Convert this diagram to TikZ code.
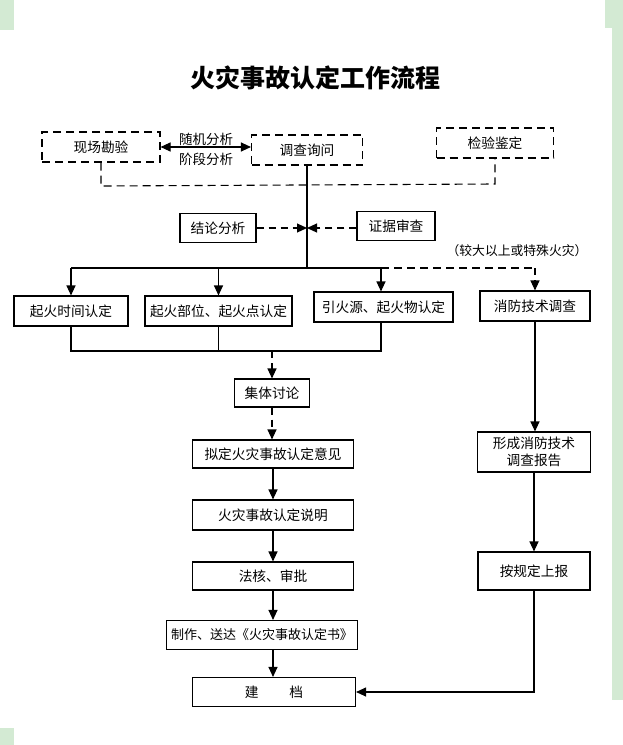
\documentclass[tikz,border=0pt]{standalone}
\usepackage{fontspec}
\newfontfamily\cjk{Noto Sans CJK SC}
\usetikzlibrary{arrows.meta}
\definecolor{edgegreen}{HTML}{D3EAD3}
\tikzset{
  box/.style={draw, line width=1.1pt, minimum height=29pt, inner sep=2pt,
    font=\cjk\fontsize{13.7}{16}\selectfont, align=center},
  dbox/.style={box, dash pattern=on 8pt off 5pt},
  arr/.style={-{Triangle[length=10pt,width=9pt]}, line width=1.1pt},
  darr/.style={arr, dash pattern=on 7pt off 5pt},
  ln/.style={line width=1.1pt},
  dln/.style={line width=1.1pt, dash pattern=on 8pt off 5pt},
  lbl/.style={font=\cjk\fontsize{13.5}{16}\selectfont, inner sep=0pt},
}
\begin{document}
\begin{tikzpicture}[x=1pt,y=-1pt]
\useasboundingbox (0,0) rectangle (623,745);
\fill[white] (0,0) rectangle (623,745);
% green edges of the screenshot
\fill[edgegreen] (0,0) rectangle (14,30);
\fill[edgegreen] (605,0) rectangle (623,28);
\fill[edgegreen] (612,28) rectangle (623,700);
\fill[edgegreen] (0,728) rectangle (14,745);

% title
\node[font=\cjk\bfseries\fontsize{25}{28}\selectfont] (title) at (315,78) {火灾事故认定工作流程};

% top row
\node[dbox, minimum width=118pt, minimum height=30pt] (xc) at (101,147) {现场勘验};
\node[dbox, minimum width=111pt, minimum height=30pt] (dc) at (307,150) {调查询问};
\node[dbox, minimum width=117pt, minimum height=30pt] (jy) at (495,143) {检验鉴定};
\node[lbl] (sj) at (206,139) {随机分析};
\node[lbl] (jd) at (206,159) {阶段分析};
\draw[{Triangle[length=10pt,width=9pt]}-{Triangle[length=10pt,width=9pt]}, line width=1.1pt]
  (xc.east) -- (xc.east -| dc.west);

% dashed loop under top row
\coordinate (lp1) at (101,186);
\coordinate (lp2) at (495,184);
\draw[dln] (xc.south) -- (lp1) -- (lp2) -- (jy.south);

% central trunk
\coordinate (jm) at (307,228);
\coordinate (j1) at (307,268);
\draw[ln] (dc.south) -- (j1);
\node[box, minimum width=76pt] (jl) at (218,228) {结论分析};
\node[box, minimum width=78pt] (zj) at (396,226) {证据审查};
\draw[darr] (jl.east) -- (jm);
\draw[darr] (zj.west |- jm) -- (jm);

% branch row
\node[box, minimum width=114pt, minimum height=30pt] (b1) at (71,311) {起火时间认定};
\node[box, minimum width=147pt, minimum height=30pt] (b2) at (218.5,311) {起火部位、起火点认定};
\node[box, minimum width=139pt, minimum height=30pt] (b3) at (383.5,307) {引火源、起火物认定};
\node[box, minimum width=110pt, minimum height=30pt] (xf) at (535,306) {消防技术调查};

\coordinate (h1) at (71,268);
\coordinate (h2) at (218.5,268);
\coordinate (h3) at (381,268);
\coordinate (h4) at (535,268);
\draw[ln] (h1) -- (h3);
\draw[dln] (h3) -- (h4);
\draw[arr] (h1) -- (b1.north);
\draw[arr] (h2) -- (b2.north);
\draw[arr] (h3) -- (h3 |- b3.north);
\draw[darr] (h4) -- (xf.north);
\node[font=\cjk\fontsize{12.8}{14}\selectfont, inner sep=0pt] (tsh) at (517,251) {（较大以上或特殊火灾）};

% merge under branch row
\coordinate (m1) at (71,351);
\coordinate (m3) at (381,351);
\coordinate (m) at (272,351);
\draw[ln] (b1.south) -- (m1) -- (m3) -- (m3 |- b3.south);
\draw[ln] (b2.south) -- (b2.south |- m1);

% left column
\node[box, minimum width=75pt, minimum height=28pt] (jt) at (272,393) {集体讨论};
\node[box, minimum width=161pt, minimum height=28pt] (ni) at (273,454) {拟定火灾事故认定意见};
\node[box, minimum width=161pt, minimum height=30pt] (sm) at (273,515) {火灾事故认定说明};
\node[box, minimum width=161pt, minimum height=28pt] (fh) at (273,576) {法核、审批};
\node[box, minimum width=191pt, minimum height=29pt, font=\cjk\fontsize{13}{16}\selectfont] (zz) at (262,635) {制作、送达《火灾事故认定书》};
\node[box, minimum width=163pt, minimum height=29pt] (ja) at (274,692) {建\hspace{31pt}档};

\draw[darr] (m) -- (jt.north);
\draw[darr] (jt.south) -- (jt.south |- ni.north);
\draw[arr] (ni.south) -- (sm.north);
\draw[arr] (sm.south) -- (fh.north);
\draw[arr] (fh.south) -- (fh.south |- zz.north);
\draw[arr] (fh.south |- zz.south) -- (fh.south |- ja.north);

% right column
\node[box, minimum width=113pt, minimum height=40pt, font=\cjk\fontsize{13.7}{17}\selectfont] (xs) at (534,452) {形成消防技术\\调查报告};
\node[box, minimum width=112pt, minimum height=38pt] (sb) at (534,571) {按规定上报};
\draw[arr] (xf.south) -- (xf.south |- xs.north);
\draw[arr] (xs.south) -- (xs.south |- sb.north);
\draw[arr] (sb.south) -- (sb.south |- ja.east) -- (ja.east);
\end{tikzpicture}
\end{document}
